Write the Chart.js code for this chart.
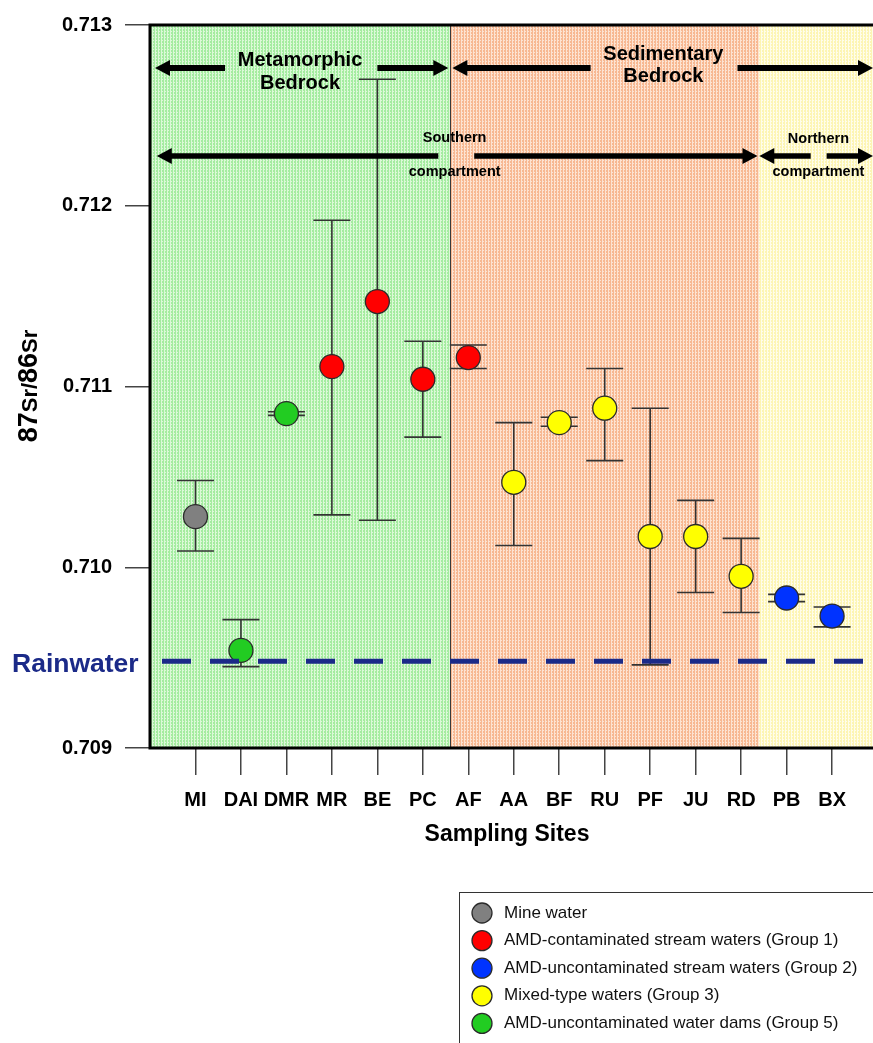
<!DOCTYPE html>
<html>
<head>
<meta charset="utf-8">
<script src="https://cdn.jsdelivr.net/npm/chart.js@4.4.1/dist/chart.umd.min.js"></script>
<style>
  html, body { margin: 0; padding: 0; background: #ffffff; overflow: hidden; }
  #wrap { width: 873px; height: 1043px; position: relative; }
</style>
</head>
<body>
<div id="wrap"><canvas id="c" width="873" height="1043"></canvas></div>
<script>
// Sampling sites along the river, in downstream order
const sites = ['MI', 'DAI', 'DMR', 'MR', 'BE', 'PC', 'AF', 'AA', 'BF', 'RU', 'PF', 'JU', 'RD', 'PB', 'BX'];
// Mean 87Sr/86Sr per site and the range of the measurements
const ratio   = [0.71028, 0.70954, 0.71085, 0.71111, 0.71147, 0.71104, 0.71116, 0.71047, 0.71080, 0.71088, 0.71017, 0.71017, 0.70995, 0.70983, 0.70973];
const errLow  = [0.71009, 0.70945, 0.71084, 0.71029, 0.71026, 0.71072, 0.71110, 0.71012, 0.71078, 0.71059, 0.70946, 0.70986, 0.70975, 0.70981, 0.70967];
const errHigh = [0.71048, 0.70971, 0.71086, 0.71192, 0.71270, 0.71125, 0.71123, 0.71080, 0.71083, 0.71110, 0.71088, 0.71037, 0.71016, 0.70985, 0.70978];
// Water type of each site (index into groupNames)
const siteGroup = [0, 4, 4, 1, 1, 1, 1, 3, 3, 3, 3, 3, 3, 2, 2];
const groupNames = [
  'Mine water',
  'AMD-contaminated stream waters (Group 1)',
  'AMD-uncontaminated stream waters (Group 2)',
  'Mixed-type waters (Group 3)',
  'AMD-uncontaminated water dams (Group 5)'
];
const yTicks = [0.709, 0.710, 0.711, 0.712, 0.713];
const rainwater = 0.70948;

const groupColors = ['#808080', '#ff0000', '#0033ff', '#ffff00', '#22cc22'];
const FONT = '"Liberation Sans", Arial, Helvetica, sans-serif';

// Dotted fill used for the bedrock / compartment zones
function dotPattern(ctx, base, light) {
  const t = document.createElement('canvas');
  t.width = 3; t.height = 3;
  const g = t.getContext('2d');
  g.fillStyle = base; g.fillRect(0, 0, 3, 3);
  g.fillStyle = light;
  g.fillRect(2, 0, 1, 3);
  g.fillRect(0, 1, 1, 1);
  return ctx.createPattern(t, 'repeat');
}

const datasets = groupNames.map((name, g) => ({
  label: name,
  data: sites.map((s, i) => (siteGroup[i] === g ? { x: i + 1, y: ratio[i] } : null)).filter(Boolean),
  backgroundColor: groupColors[g],
  borderColor: '#2b2b2b',
  borderWidth: 1.3,
  pointRadius: 12,
  pointHoverRadius: 12
}));

// Zones along the x axis (site units)
const zones = [
  { from: 0, to: 6.6, base: '#a4eca0', light: '#dcf9d8' },
  { from: 6.6, to: 13.4, base: '#f7b892', light: '#fde3d2' },
  { from: 13.4, to: 15.9, base: '#fdf5b4', light: '#fffdea' }
];

function arrowHead(ctx, x, y, dir) {
  ctx.beginPath();
  ctx.moveTo(x, y);
  ctx.lineTo(x - dir * 15, y - 8);
  ctx.lineTo(x - dir * 15, y + 8);
  ctx.closePath();
  ctx.fill();
}
function arrowSeg(ctx, x1, x2, y, headL, headR, w) {
  ctx.lineWidth = w;
  ctx.beginPath();
  ctx.moveTo(headL ? x1 + 14 : x1, y);
  ctx.lineTo(headR ? x2 - 14 : x2, y);
  ctx.stroke();
  if (headL) arrowHead(ctx, x1, y, -1);
  if (headR) arrowHead(ctx, x2, y, 1);
}

const decor = {
  id: 'decor',
  beforeDatasetsDraw(chart) {
    const { ctx, chartArea: a, scales: { x, y } } = chart;
    ctx.save();
    ctx.beginPath(); ctx.rect(a.left, a.top, a.right - a.left, a.bottom - a.top); ctx.clip();
    zones.forEach(z => {
      ctx.fillStyle = dotPattern(ctx, z.base, z.light);
      const x1 = x.getPixelForValue(z.from), x2 = x.getPixelForValue(z.to);
      ctx.fillRect(x1, a.top, x2 - x1, a.bottom - a.top);
    });
    // divider between metamorphic and sedimentary bedrock
    ctx.strokeStyle = '#3a3a3a'; ctx.lineWidth = 1;
    const xd = Math.round(x.getPixelForValue(6.6)) + 0.5;
    ctx.beginPath(); ctx.moveTo(xd, a.top); ctx.lineTo(xd, a.bottom); ctx.stroke();
    ctx.restore();

    // error bars
    ctx.save();
    ctx.strokeStyle = '#333333'; ctx.lineWidth = 1.6;
    sites.forEach((s, i) => {
      const px = x.getPixelForValue(i + 1);
      const yl = y.getPixelForValue(errLow[i]), yh = y.getPixelForValue(errHigh[i]);
      ctx.beginPath();
      ctx.moveTo(px, yl); ctx.lineTo(px, yh);
      ctx.moveTo(px - 18.5, yl); ctx.lineTo(px + 18.5, yl);
      ctx.moveTo(px - 18.5, yh); ctx.lineTo(px + 18.5, yh);
      ctx.stroke();
    });
    ctx.restore();
  },
  afterDatasetsDraw(chart) {
    const { ctx, chartArea: a, scales: { x, y } } = chart;
    ctx.save();
    // rainwater reference level
    const yr = y.getPixelForValue(rainwater);
    ctx.strokeStyle = '#1b2a88'; ctx.lineWidth = 5;
    ctx.setLineDash([29, 19]);
    ctx.beginPath(); ctx.moveTo(a.left + 12, yr); ctx.lineTo(a.right, yr); ctx.stroke();
    ctx.setLineDash([]);
    ctx.fillStyle = '#1b2a88';
    ctx.font = 'bold 26.5px ' + FONT;
    ctx.textAlign = 'left'; ctx.textBaseline = 'middle';
    ctx.fillText('Rainwater', 12, yr + 3);

    // frame
    ctx.strokeStyle = '#000'; ctx.lineWidth = 3;
    ctx.beginPath();
    ctx.moveTo(a.right, a.top); ctx.lineTo(a.left, a.top);
    ctx.lineTo(a.left, a.bottom); ctx.lineTo(a.right, a.bottom);
    ctx.stroke();

    // bedrock arrows
    ctx.fillStyle = '#000'; ctx.strokeStyle = '#000';
    const r1 = a.top + 43, r2 = a.top + 131;
    const X = v => x.getPixelForValue(v);
    arrowSeg(ctx, X(0.11), X(1.65), r1, true, false, 6);
    arrowSeg(ctx, X(5.0), X(6.56), r1, false, true, 6);
    arrowSeg(ctx, X(6.65), X(9.69), r1, true, false, 6);
    arrowSeg(ctx, X(12.92), X(15.9), r1, false, true, 6);
    ctx.font = 'bold 20px ' + FONT;
    ctx.textAlign = 'center'; ctx.textBaseline = 'middle';
    ctx.fillText('Metamorphic', X(3.3), a.top + 35);
    ctx.fillText('Bedrock', X(3.3), a.top + 58);
    ctx.fillText('Sedimentary', X(11.29), a.top + 29);
    ctx.fillText('Bedrock', X(11.29), a.top + 51);

    // compartment arrows
    arrowSeg(ctx, X(0.15), X(6.34), r2, true, false, 5.5);
    arrowSeg(ctx, X(7.13), X(13.36), r2, false, true, 5.5);
    arrowSeg(ctx, X(13.4), X(14.53), r2, true, false, 5.5);
    arrowSeg(ctx, X(14.88), X(15.9), r2, false, true, 5.5);
    ctx.font = 'bold 14.5px ' + FONT;
    ctx.fillText('Southern', X(6.7), a.top + 113);
    ctx.fillText('compartment', X(6.7), a.top + 147);
    ctx.fillText('Northern', X(14.7), a.top + 114);
    ctx.fillText('compartment', X(14.7), a.top + 147);

    // axis titles
    ctx.font = 'bold 23px ' + FONT;
    ctx.fillText('Sampling Sites', 507, 835);

    ctx.save();
    ctx.translate(24, 386);
    ctx.rotate(-Math.PI / 2);
    const parts = [['87', 27], ['Sr', 22], ['/', 22], ['86', 27], ['Sr', 22]];
    let total = 0;
    parts.forEach(p => { ctx.font = 'bold ' + p[1] + 'px ' + FONT; total += ctx.measureText(p[0]).width; });
    let cx = -total / 2;
    ctx.textAlign = 'left'; ctx.textBaseline = 'alphabetic';
    parts.forEach(p => {
      ctx.font = 'bold ' + p[1] + 'px ' + FONT;
      ctx.fillText(p[0], cx, 13);
      cx += ctx.measureText(p[0]).width;
    });
    ctx.restore();

    // legend
    ctx.strokeStyle = '#333'; ctx.lineWidth = 1;
    ctx.strokeRect(459.5, 892.5, 430, 200);
    ctx.font = '17px ' + FONT;
    ctx.textAlign = 'left'; ctx.textBaseline = 'middle';
    groupNames.forEach((name, g) => {
      const ly = 913 + g * 27.6;
      ctx.beginPath(); ctx.arc(482, ly, 10, 0, Math.PI * 2);
      ctx.fillStyle = groupColors[g]; ctx.fill();
      ctx.lineWidth = 1.3; ctx.strokeStyle = '#2b2b2b'; ctx.stroke();
      ctx.fillStyle = '#111';
      ctx.fillText(name, 504, ly);
    });
    ctx.restore();
  }
};

new Chart(document.getElementById('c'), {
  type: 'scatter',
  data: { datasets },
  options: {
    responsive: false,
    animation: false,
    events: [],
    layout: { autoPadding: false, padding: { top: 23, right: 0, bottom: 0, left: 0 } },
    plugins: { legend: { display: false }, tooltip: { enabled: false } },
    scales: {
      x: {
        type: 'linear', min: 0, max: 15.9,
        afterBuildTicks: s => { s.ticks = sites.map((n, i) => ({ value: i + 1 })); },
        afterFit: s => { s.height = 295; },
        ticks: {
          callback: v => sites[v - 1] || '',
          font: { family: FONT, size: 20, weight: 'bold' },
          color: '#000', padding: 13, maxRotation: 0, autoSkip: false
        },
        grid: { drawOnChartArea: false, drawTicks: true, tickLength: 27, color: '#444', lineWidth: 1.5 },
        border: { display: false }
      },
      y: {
        min: 0.709, max: 0.713,
        afterBuildTicks: s => { s.ticks = yTicks.map(v => ({ value: v })); },
        afterFit: s => { s.width = 150; },
        ticks: {
          callback: v => v.toFixed(3),
          font: { family: FONT, size: 20, weight: 'bold' },
          color: '#000', padding: 13
        },
        grid: { drawOnChartArea: false, drawTicks: true, tickLength: 25, color: '#444', lineWidth: 1.5 },
        border: { display: false }
      }
    }
  },
  plugins: [decor]
});
</script>
</body>
</html>
